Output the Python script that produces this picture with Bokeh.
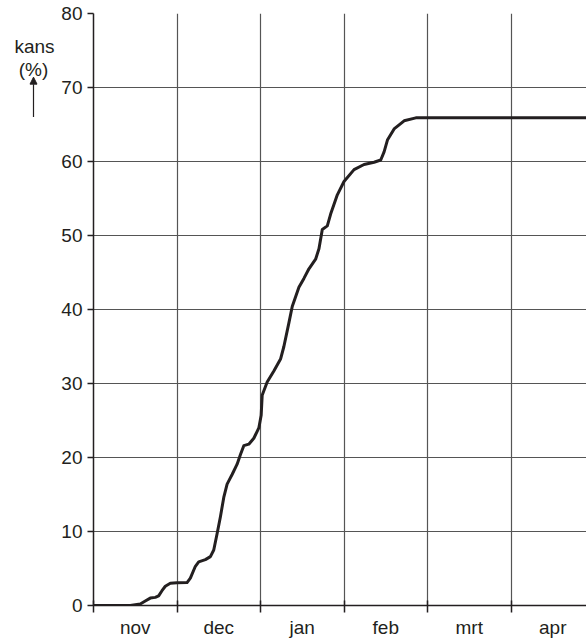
from bokeh.plotting import figure
from bokeh.layouts import row
from bokeh.models import Range1d, FixedTicker, Arrow, NormalHead
from bokeh.core.properties import value
from bokeh.embed import file_html
from bokeh.resources import INLINE

# ---- data ----
months = ["nov", "dec", "jan", "feb", "mrt", "apr"]
y_ticks = [0, 10, 20, 30, 40, 50, 60, 70, 80]
# time in months since 1 November
t = [0, 0.44, 0.56, 0.62, 0.68, 0.74, 0.78, 0.82, 0.86, 0.92, 1.00, 1.12,
     1.16, 1.22, 1.26, 1.34, 1.40, 1.44, 1.48, 1.52, 1.56, 1.60, 1.66, 1.72,
     1.76, 1.80, 1.86, 1.92, 1.98, 2.008, 2.02, 2.08, 2.16, 2.24, 2.28, 2.34,
     2.38, 2.46, 2.52, 2.58, 2.66, 2.70, 2.74, 2.80, 2.84, 2.92, 3.00, 3.12,
     3.24, 3.36, 3.44, 3.48, 3.52, 3.60, 3.72, 3.86, 4.16, 6.00]
kans = [0, 0, 0.2, 0.6, 1.0, 1.1, 1.3, 2.0, 2.6, 3.0, 3.07, 3.1,
        3.7, 5.3, 5.9, 6.2, 6.6, 7.5, 9.7, 12.0, 14.6, 16.4, 17.7, 19.1,
        20.4, 21.6, 21.8, 22.6, 24.0, 25.7, 28.4, 30.2, 31.7, 33.3, 35.0, 38.2,
        40.4, 43.0, 44.2, 45.5, 46.8, 48.2, 50.8, 51.3, 52.9, 55.5, 57.3, 58.9,
        59.6, 59.9, 60.2, 61.3, 62.9, 64.4, 65.5, 65.9, 65.9, 65.9]
caption = ["kans", "(%)"]

FONT = "Liberation Sans"
INK = "#231f20"
FS = "19px"

y_range = Range1d(0, 80)

# ---- caption panel (left of the y axis), shares the y scale ----
cap = figure(width=58, height=640, output_backend="svg", toolbar_location=None,
             x_range=Range1d(0, 58), y_range=y_range,
             min_border=0, x_axis_type=None, y_axis_type=None)
cap.outline_line_color = None
cap.grid.visible = False
cap.text(x=[34, 33], y=[75.5, 72.5], text=caption, text_align="center",
         text_baseline="alphabetic", text_font=value(FONT),
         text_font_size=FS, text_color=INK)
cap.add_layout(Arrow(end=NormalHead(size=7, fill_color=INK, line_color=INK),
                     x_start=33, y_start=66.0, x_end=33, y_end=71.4,
                     line_color=INK, line_width=1.2))

# ---- main chart ----
p = figure(width=528, height=640, output_backend="svg", toolbar_location=None,
           x_range=Range1d(0, 5.904), y_range=y_range,
           min_border_left=35, min_border_right=0, min_border_top=13,
           min_border_bottom=27)
p.outline_line_color = None
p.background_fill_color = "white"
p.border_fill_color = "white"

boundaries = list(range(len(months)))
centers = [i + 0.5 for i in boundaries]

# x axis: month names centred, ticks at month boundaries
p.xaxis.ticker = FixedTicker(ticks=centers, minor_ticks=boundaries)
p.xaxis.major_label_overrides = {c: m for c, m in zip(centers, months)}
p.xaxis.major_tick_in = 0
p.xaxis.major_tick_out = 0
p.xaxis.minor_tick_in = 5
p.xaxis.minor_tick_out = 7
p.xaxis.minor_tick_line_color = INK
p.xaxis.minor_tick_line_width = 1.5
p.xaxis.axis_line_color = INK
p.xaxis.axis_line_width = 1.5
p.xaxis.major_label_standoff = 4
p.xaxis.major_label_text_font = FONT
p.xaxis.major_label_text_font_size = FS
p.xaxis.major_label_text_color = INK

# y axis
p.yaxis.ticker = FixedTicker(ticks=y_ticks, minor_ticks=[])
p.yaxis.major_tick_in = 0
p.yaxis.major_tick_out = 6
p.yaxis.major_tick_line_color = INK
p.yaxis.major_tick_line_width = 1.5
p.yaxis.minor_tick_line_color = None
p.yaxis.axis_line_color = INK
p.yaxis.axis_line_width = 1.5
p.yaxis.major_label_standoff = 5
p.yaxis.major_label_text_font = FONT
p.yaxis.major_label_text_font_size = FS
p.yaxis.major_label_text_color = INK

# grids
p.xgrid.ticker = FixedTicker(ticks=boundaries[1:])
p.ygrid.ticker = FixedTicker(ticks=y_ticks[1:])
for g in (p.xgrid, p.ygrid):
    g.grid_line_color = "#555555"
    g.grid_line_width = 1.2

# curve
p.line(t, kans, line_color=INK, line_width=3, line_join="round", line_cap="round")

layout = row(cap, p, spacing=0)
open("out.html", "w").write(file_html(layout, INLINE))
